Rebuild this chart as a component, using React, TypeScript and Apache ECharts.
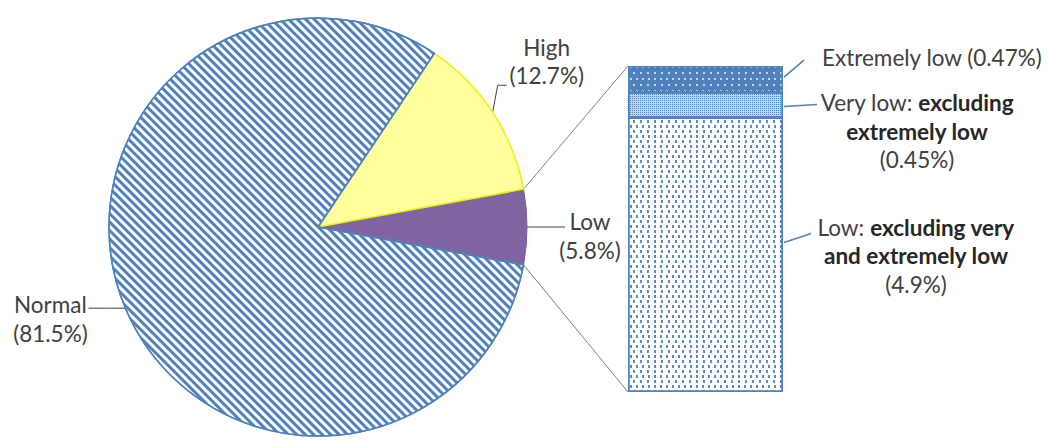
import React, { useEffect, useRef } from 'react';
import * as echarts from 'echarts';

// Pie: share of readings by category (%)
const pieNames = ['Low', 'High', 'Normal'];
const pieValues = [5.8, 12.7, 81.5];

// Breakdown of the "Low" slice, stacked bottom to top (%)
const barNames = ['Low', 'Very low', 'Extremely low'];
const barValues = [4.9, 0.45, 0.47];
const barLeads = ['Low: ', 'Very low: ', 'Extremely low '];
const barBoldLines = [['excluding very', 'and extremely low'], ['excluding', 'extremely low'], []];

const FONT = 'Lato, "Liberation Sans", sans-serif';
const FS = 22.5;
const LH = 28.5;
const TEXT = '#404040';
const BOLD = '#262626';
const BLUE = '#4f81bd';
const GREY = '#7f7f7f';

const PIE_CX = 318;
const PIE_CY = 227;
const PIE_R = 209;
const GRID = { left: 628, top: 66, width: 155, height: 326 };

const sum = (a: number[]) => a.reduce((s, v) => s + v, 0);

function barLabel(i: number, value: number): string {
  const bold = barBoldLines[i];
  if (!bold.length) return `{n|${barLeads[i]}(${value}%)}`;
  const lines = [
    `{n|${barLeads[i]}}{b|${bold[0]}}`,
    ...bold.slice(1).map((t) => `{b|${t}}`),
    `{n|(${value}%)}`,
  ];
  return lines.join('\n');
}

const pieStyles = [
  { color: '#8064a2', borderColor: '#7a5e9c', borderWidth: 1 },
  { color: '#ffff9c', borderColor: '#eeee10', borderWidth: 1.5 },
  {
    color: '#ffffff',
    borderColor: BLUE,
    borderWidth: 1.5,
    decal: {
      symbol: 'rect',
      symbolSize: 1,
      color: BLUE,
      dashArrayX: [1, 0],
      dashArrayY: [2.6, 2.4],
      rotation: Math.PI / 4,
    },
  },
];

const barStyles = [
  {
    color: '#ffffff',
    borderColor: BLUE,
    borderWidth: 1.5,
    decal: {
      symbol: 'rect',
      symbolSize: 1,
      color: '#5b8ac4',
      dashArrayX: [[1.3, 3.4], [0, 2.35, 1.3, 1.05]],
      dashArrayY: [3, 2],
    },
  },
  {
    color: '#c4d5ec',
    borderColor: BLUE,
    borderWidth: 1.5,
    decal: {
      symbol: 'rect',
      symbolSize: 1,
      color: '#4f81bd',
      dashArrayX: [1, 1],
      dashArrayY: [1, 1],
    },
  },
  {
    color: BLUE,
    borderColor: BLUE,
    borderWidth: 1.5,
    decal: {
      symbol: 'rect',
      symbolSize: 1,
      color: '#c9d8ee',
      dashArrayX: [[1.2, 3.8], [0, 2.5, 1.2, 1.3]],
      dashArrayY: [1.2, 3.5],
    },
  },
];

// Text placement of each bar label, relative to its segment's rect
const barLabelPlace = [
  { dx: 133, dy: 138, align: 'center' },
  { dx: 134, dy: 39, align: 'center' },
  { dx: 39, dy: -9, align: 'left' },
];
// Leader line for each bar label: start fraction (from bottom of segment) and end offset
const barLeader = [
  { f: 0.545, ex: 27, ey: -9 },
  { f: 0.44, ex: 33, ey: -2 },
  { f: 0.58, ex: 20, ey: -17 },
];

const richText = {
  n: { fontFamily: FONT, fontSize: FS, lineHeight: LH, color: TEXT },
  b: { fontFamily: FONT, fontSize: FS, lineHeight: LH, color: BOLD, fontWeight: 'bold' },
};

function buildOption() {
  const pieTotal = sum(pieValues);
  const barTotal = sum(barValues);
  const lowHalfDeg = (pieValues[0] / pieTotal) * 180;

  return {
    animation: false,
    backgroundColor: '#ffffff',
    grid: { ...GRID, containLabel: false },
    xAxis: { type: 'category', data: ['Low'], show: false, boundaryGap: true },
    yAxis: { type: 'value', min: 0, max: barTotal, show: false },
    series: [
      {
        type: 'pie',
        center: [PIE_CX, PIE_CY],
        radius: PIE_R,
        startAngle: 360 - lowHalfDeg,
        clockwise: false,
        avoidLabelOverlap: false,
        silent: true,
        data: pieNames.map((n, i) => ({ name: n, value: pieValues[i], itemStyle: pieStyles[i] })),
        label: {
          show: true,
          position: 'outside',
          formatter: (p: any) => `${p.name}\n(${p.value}%)`,
          fontFamily: FONT,
          fontSize: FS,
          lineHeight: LH,
          color: TEXT,
          align: 'center',
        },
        labelLine: { show: true, lineStyle: { color: TEXT, width: 1 } },
        labelLayout: (p: any) => {
          const a = p.labelLinePoints && p.labelLinePoints[0];
          if (!a) return {};
          const [x0, y0] = a;
          if (p.dataIndex === 0) {
            return {
              x: x0 + 63, y: y0 + 9, align: 'center', verticalAlign: 'middle',
              labelLinePoints: [[x0, y0], [x0 + 19, y0], [x0 + 38, y0]],
            };
          }
          if (p.dataIndex === 1) {
            return {
              x: x0 + 54, y: y0 - 51, align: 'center', verticalAlign: 'middle',
              labelLinePoints: [[x0, y0], [x0 + 5, y0 - 27], [x0 + 14, y0 - 27]],
            };
          }
          return {
            x: x0 - 75, y: y0 + 11, align: 'center', verticalAlign: 'middle',
            labelLinePoints: [[x0, y0], [x0 - 20, y0], [x0 - 37, y0]],
          };
        },
      },
      ...barValues.map((v, i) => ({
        type: 'bar',
        name: barNames[i],
        stack: 'low',
        data: [v],
        barWidth: '100%',
        barCategoryGap: '0%',
        silent: true,
        itemStyle: barStyles[i],
        label: {
          show: true,
          position: 'right',
          formatter: (p: any) => barLabel(i, p.value),
          rich: richText,
        },
        labelLayout: (p: any) => {
          const r = p.rect;
          const pl = barLabelPlace[i];
          return { x: r.x + r.width + pl.dx, y: r.y + pl.dy, align: pl.align, verticalAlign: 'middle' };
        },
      })),
    ],
  };
}

export default function App() {
  const ref = useRef<HTMLDivElement>(null);

  useEffect(() => {
    if (!ref.current) return;
    const chart = echarts.init(ref.current, null, { renderer: 'svg', width: 1048, height: 445 });
    chart.setOption(buildOption() as any);

    // Connector lines from the Low slice to the breakdown bar, and bar leader lines
    const pieTotal = sum(pieValues);
    const half = (pieValues[0] / pieTotal) * Math.PI;
    const px = PIE_CX + PIE_R * Math.cos(half);
    const pyTop = PIE_CY - PIE_R * Math.sin(half);
    const pyBot = PIE_CY + PIE_R * Math.sin(half);
    const barTotal = sum(barValues);
    const yTop = chart.convertToPixel({ yAxisIndex: 0 }, barTotal) as number;
    const yBot = chart.convertToPixel({ yAxisIndex: 0 }, 0) as number;
    const barLeft = GRID.left;
    const barRight = GRID.left + GRID.width;

    const graphics: any[] = [
      { type: 'line', silent: true, shape: { x1: px, y1: pyTop, x2: barLeft, y2: yTop }, style: { stroke: GREY, lineWidth: 1 } },
      { type: 'line', silent: true, shape: { x1: px, y1: pyBot, x2: barLeft, y2: yBot }, style: { stroke: GREY, lineWidth: 1 } },
    ];
    let base = 0;
    barValues.forEach((v, i) => {
      const lead = barLeader[i];
      const y = chart.convertToPixel({ yAxisIndex: 0 }, base + v * lead.f) as number;
      const x = barRight + 1;
      graphics.push({
        type: 'line',
        silent: true,
        shape: { x1: x, y1: y, x2: x + lead.ex, y2: y + lead.ey },
        style: { stroke: BLUE, lineWidth: 1.5 },
      });
      base += v;
    });
    chart.setOption({ graphic: graphics });

    return () => chart.dispose();
  }, []);

  return (
    <div
      ref={ref}
      style={{ position: 'absolute', left: 0, top: 0, width: 1048, height: 445, background: '#fff' }}
    />
  );
}
